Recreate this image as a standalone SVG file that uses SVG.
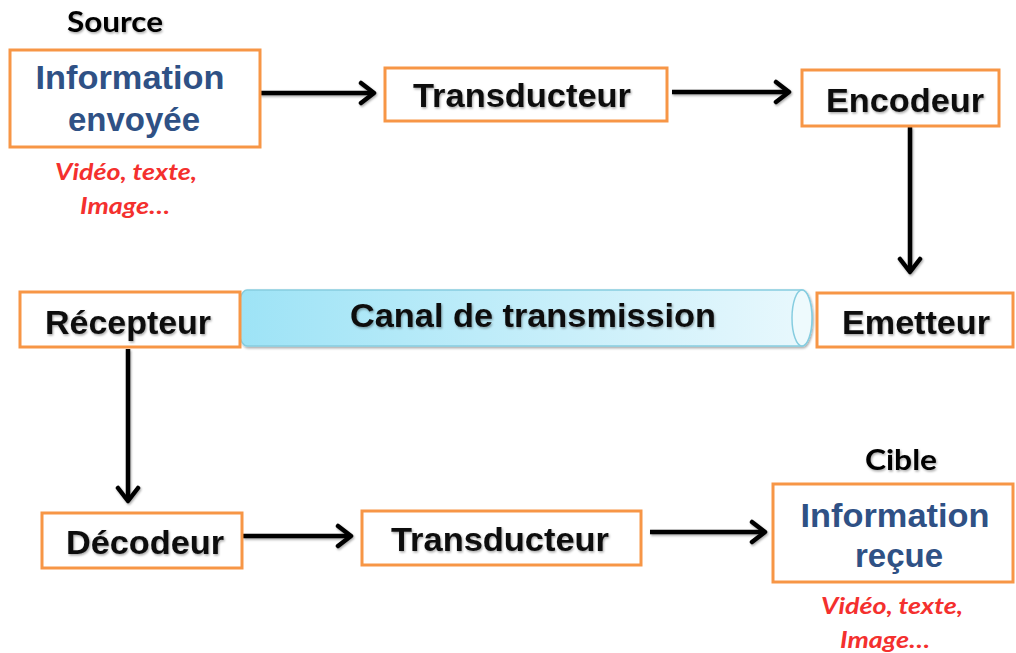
<svg xmlns="http://www.w3.org/2000/svg" width="1016" height="653" viewBox="0 0 1016 653">
  <defs>
    <style>
      .box { fill: #ffffff; stroke: #f79646; stroke-width: 3; }
      .lbl { font-family: "Liberation Sans", Arial, sans-serif; font-weight: bold; font-size: 33px; fill: #0d0d0d; text-anchor: middle; }
      .info { font-family: "Liberation Sans", Arial, sans-serif; font-weight: bold; font-size: 33px; fill: #2f5185; text-anchor: middle; }
      .title { font-family: Lato, "Open Sans", sans-serif; font-weight: bold; font-size: 28px; fill: #000000; text-anchor: middle; }
      .note { font-family: Lato, "Open Sans", sans-serif; font-weight: bold; font-style: italic; font-size: 22px; fill: #f4302e; text-anchor: middle; }
      .conn { stroke: #000000; stroke-width: 4.5; fill: none; marker-end: url(#head); }
      .shadow { filter: url(#soft); }
    </style>
    <filter id="soft" x="-10%" y="-30%" width="120%" height="160%">
      <feDropShadow dx="1" dy="1.5" stdDeviation="1.2" flood-color="#000000" flood-opacity="0.35"/>
    </filter>
    <linearGradient id="tube" x1="0" y1="0" x2="1" y2="0">
      <stop offset="0" stop-color="#9de3f6"/>
      <stop offset="1" stop-color="#e9f8fd"/>
    </linearGradient>
    <marker id="head" markerUnits="userSpaceOnUse" viewBox="-16 -13 19 26" refX="0" refY="0" markerWidth="19" markerHeight="26" orient="auto">
      <path d="M-13,-10 L0,0 L-13,10" fill="none" stroke="#000000" stroke-width="4.5" stroke-linecap="round" stroke-linejoin="round"/>
    </marker>
  </defs>

  <!-- connectors -->
  <g id="connectors" class="shadow">
    <line class="conn" x1="260" y1="93" x2="374" y2="93"/>
    <line class="conn" x1="672" y1="92" x2="789" y2="92"/>
    <line class="conn" x1="910" y1="127" x2="910" y2="272"/>
    <line class="conn" x1="128" y1="349" x2="128" y2="501"/>
    <line class="conn" x1="243" y1="536" x2="351" y2="536"/>
    <line class="conn" x1="650" y1="532" x2="765" y2="532"/>
  </g>

  <!-- source -->
  <g id="source">
    <text class="title shadow" x="115" y="32" textLength="96" lengthAdjust="spacingAndGlyphs">Source</text>
    <rect class="box" x="10" y="50" width="250" height="97"/>
    <text class="info" x="130" y="89" textLength="189" lengthAdjust="spacingAndGlyphs">Information</text>
    <text class="info" x="134" y="131">envoyée</text>
    <text class="note" x="126" y="180" textLength="142" lengthAdjust="spacingAndGlyphs">Vidéo, texte,</text>
    <text class="note" x="125" y="214" textLength="90" lengthAdjust="spacingAndGlyphs">Image…</text>
  </g>

  <g id="transducteur-1">
    <rect class="box" x="385" y="68" width="282" height="53"/>
    <text class="lbl shadow" x="522" y="107" textLength="218" lengthAdjust="spacingAndGlyphs">Transducteur</text>
  </g>

  <g id="encodeur">
    <rect class="box" x="802" y="70" width="197" height="56"/>
    <text class="lbl shadow" x="905" y="112" textLength="158" lengthAdjust="spacingAndGlyphs">Encodeur</text>
  </g>

  <g id="emetteur">
    <rect class="box" x="817" y="293" width="196" height="54"/>
    <text class="lbl shadow" x="916" y="334" textLength="148" lengthAdjust="spacingAndGlyphs">Emetteur</text>
  </g>

  <!-- transmission channel drawn as a tube -->
  <g id="canal">
    <path d="M247,290 H802 A10,28 0 0 1 802,346 H247 A10,28 0 0 1 247,290 Z" fill="url(#tube)" stroke="#86cde0" stroke-width="1.5" filter="url(#soft)"/>
    <ellipse cx="802" cy="318" rx="10" ry="28" fill="#eefafd" stroke="#86cde0" stroke-width="1.5"/>
    <text class="lbl shadow" x="533" y="327" textLength="366" lengthAdjust="spacingAndGlyphs">Canal de transmission</text>
  </g>

  <g id="recepteur">
    <rect class="box" x="20" y="292" width="220" height="55"/>
    <text class="lbl shadow" x="128" y="334" textLength="166" lengthAdjust="spacingAndGlyphs">Récepteur</text>
  </g>

  <g id="decodeur">
    <rect class="box" x="42" y="513" width="200" height="55"/>
    <text class="lbl shadow" x="145" y="554" textLength="158" lengthAdjust="spacingAndGlyphs">Décodeur</text>
  </g>

  <g id="transducteur-2">
    <rect class="box" x="362" y="511" width="279" height="54"/>
    <text class="lbl shadow" x="500" y="551" textLength="218" lengthAdjust="spacingAndGlyphs">Transducteur</text>
  </g>

  <!-- target -->
  <g id="cible">
    <text class="title shadow" x="901" y="470" textLength="72" lengthAdjust="spacingAndGlyphs">Cible</text>
    <rect class="box" x="773" y="484" width="240" height="98"/>
    <text class="info" x="895" y="527" textLength="189" lengthAdjust="spacingAndGlyphs">Information</text>
    <text class="info" x="899" y="567">reçue</text>
    <text class="note" x="892" y="614" textLength="142" lengthAdjust="spacingAndGlyphs">Vidéo, texte,</text>
    <text class="note" x="885" y="648" textLength="90" lengthAdjust="spacingAndGlyphs">Image…</text>
  </g>
</svg>
